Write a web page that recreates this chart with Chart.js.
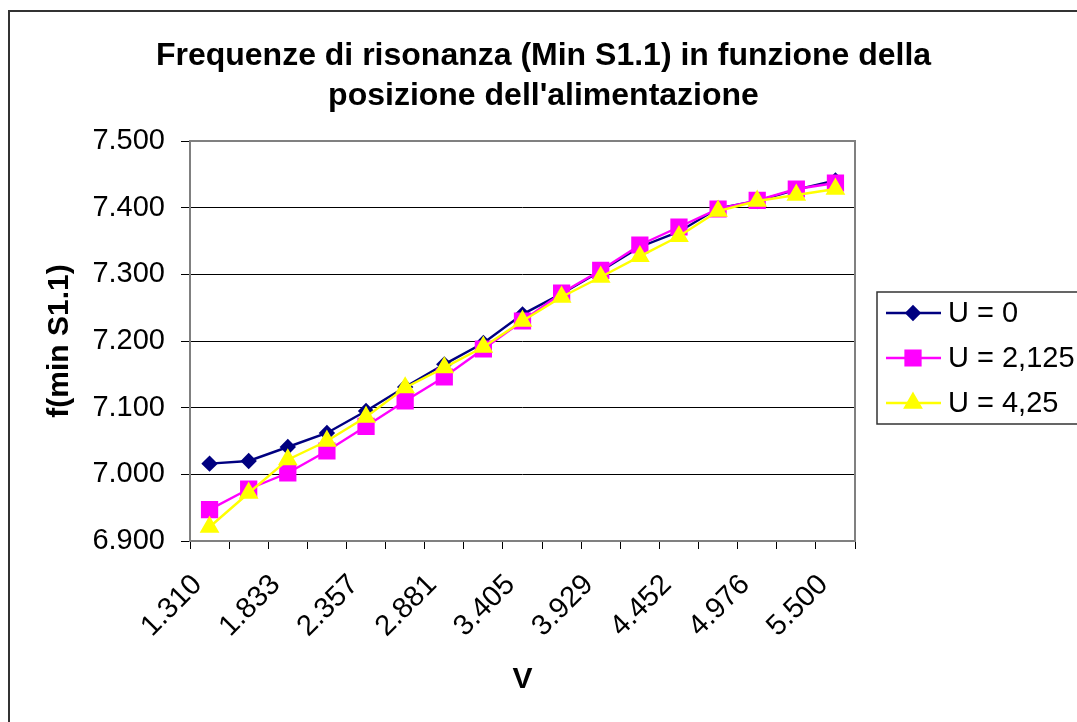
<!DOCTYPE html>
<html lang="it">
<head>
  <meta charset="UTF-8" />
  <title>Frequenze di risonanza</title>
  <script src="https://cdn.jsdelivr.net/npm/chart.js"></script>
  <style>
    html, body { margin: 0; padding: 0; background: #fff; overflow: hidden; }
    #grafico { display: block; }
  </style>
</head>
<body>
<canvas id="grafico" width="1077" height="722"></canvas>

<script>
// posizione dell'alimentazione (V) - solo una etichetta su due viene mostrata
const posizioni = ['1.310', '1.572', '1.833', '2.095', '2.357', '2.619', '2.881', '3.143', '3.405',
                   '3.667', '3.929', '4.190', '4.452', '4.714', '4.976', '5.238', '5.500'];

// f(min S1.1) per i tre valori di U
const freqU0    = [7016, 7020, 7041, 7062, 7095, 7131, 7165, 7197, 7240, 7271, 7305, 7341, 7364, 7399, 7410, 7427, 7441];
const freqU2125 = [6947, 6978, 7002, 7035, 7072, 7110, 7146, 7188, 7230, 7272, 7306, 7344, 7371, 7398, 7411, 7428, 7437];
const freqU425  = [6921, 6972, 7022, 7050, 7086, 7130, 7160, 7191, 7230, 7266, 7296, 7327, 7357, 7395, 7410, 7419, 7428];

const FONT = "'Liberation Sans', Arial, sans-serif";

// 7500 -> "7.500"
const migliaia = v => String(Math.round(v)).replace(/\B(?=(\d{3})+(?!\d))/g, '.');

// cornice del grafico e bordo dell'area del tracciato
const cornice = {
  id: 'cornice',
  beforeDraw(chart) {
    const ctx = chart.ctx;
    ctx.save();
    ctx.strokeStyle = '#333';
    ctx.lineWidth = 2;
    ctx.strokeRect(9, 11, 3000, 3000);
    ctx.restore();
  },
  beforeDatasetsDraw(chart) {
    const { ctx, chartArea: a } = chart;
    ctx.save();
    ctx.strokeStyle = '#808080';
    ctx.lineWidth = 2;
    ctx.strokeRect(a.left, a.top, a.right - a.left, a.bottom - a.top);
    ctx.restore();
  }
};

// legenda con riquadro: occupa una colonna a destra dell'area del tracciato
function disegnaLegenda(chart) {
  const ctx = chart.ctx;
  const x0 = 877, y0 = 292, h = 132, passo = 45;
  ctx.save();
  ctx.strokeStyle = '#333';
  ctx.lineWidth = 1.5;
  ctx.strokeRect(x0, y0, 400, h);
  ctx.font = '29px ' + FONT;
  ctx.textBaseline = 'middle';
  chart.data.datasets.forEach((ds, i) => {
    const y = y0 + 21 + i * passo;
    ctx.strokeStyle = ds.borderColor;
    ctx.lineWidth = ds.borderWidth;
    ctx.beginPath();
    ctx.moveTo(886, y);
    ctx.lineTo(941, y);
    ctx.stroke();
    ctx.fillStyle = ds.pointBackgroundColor;
    ctx.strokeStyle = ds.pointBorderColor;
    Chart.helpers.drawPoint(ctx, {
      pointStyle: ds.pointStyle, radius: ds.pointRadius, borderWidth: 1, rotation: 0
    }, 913, y);
    ctx.fillStyle = '#000';
    ctx.fillText(ds.label, 948, y + 1);
  });
  ctx.restore();
}

const legenda = {
  id: 'legenda',
  beforeInit(chart) {
    Chart.layouts.addBox(chart, {
      position: 'right',
      weight: 1000,
      fullSize: false,
      options: {},
      isHorizontal: () => false,
      update(maxWidth, maxHeight) { this.width = 222; this.height = maxHeight; },
      draw() { disegnaLegenda(chart); }
    });
  }
};

new Chart(document.getElementById('grafico'), {
  type: 'line',
  data: {
    labels: posizioni,
    datasets: [
      {
        label: 'U = 0', data: freqU0, order: 3,
        borderColor: '#000080', borderWidth: 2.4,
        pointStyle: 'rectRot', pointRadius: 6.5,
        pointBackgroundColor: '#000080', pointBorderColor: '#000080'
      },
      {
        label: 'U = 2,125', data: freqU2125, order: 2,
        borderColor: '#ff00ff', borderWidth: 2.4,
        pointStyle: 'rect', pointRadius: 10.5,
        pointBackgroundColor: '#ff00ff', pointBorderColor: '#ff00ff'
      },
      {
        label: 'U = 4,25', data: freqU425, order: 1,
        borderColor: '#ffff00', borderWidth: 2.4,
        pointStyle: 'triangle', pointRadius: 9,
        pointBackgroundColor: '#ffff00', pointBorderColor: '#ffff00'
      }
    ]
  },
  options: {
    responsive: false,
    animation: false,
    layout: { padding: { top: 0, right: 0, bottom: 0, left: 10 } },
    plugins: {
      legend: { display: false },
      tooltip: { enabled: false },
      title: {
        display: true,
        text: ['Frequenze di risonanza (Min S1.1) in funzione della', "posizione dell'alimentazione"],
        color: '#000',
        font: { family: FONT, size: 32, weight: 'bold', lineHeight: 1.25 },
        padding: { top: 36, bottom: 25 }
      }
    },
    scales: {
      x: {
        offset: true,
        afterFit: s => { s.height = 181; },
        border: { display: false },
        grid: { offset: true, drawOnChartArea: false, drawTicks: true, tickLength: 8, color: '#000' },
        ticks: {
          autoSkip: false, maxRotation: 45, minRotation: 45, padding: 19, labelOffset: -12,
          color: '#000', font: { family: FONT, size: 29 },
          callback: (v, i) => (i % 2 === 0 ? posizioni[i] : '')
        },
        title: {
          display: true, text: 'V', color: '#000',
          font: { family: FONT, size: 30, weight: 'bold' }, padding: 24
        }
      },
      y: {
        min: 6900, max: 7500,
        afterFit: s => { s.width = 180; },
        border: { display: false },
        grid: { color: '#000', lineWidth: 1, tickLength: 9 },
        ticks: {
          stepSize: 100, padding: 16, color: '#000',
          font: { family: FONT, size: 29 },
          callback: v => migliaia(v)
        },
        title: {
          display: true, text: 'f(min S1.1)', color: '#000',
          font: { family: FONT, size: 30, weight: 'bold' }, padding: 32
        }
      }
    }
  },
  plugins: [cornice, legenda]
});
</script>
</body>
</html>
